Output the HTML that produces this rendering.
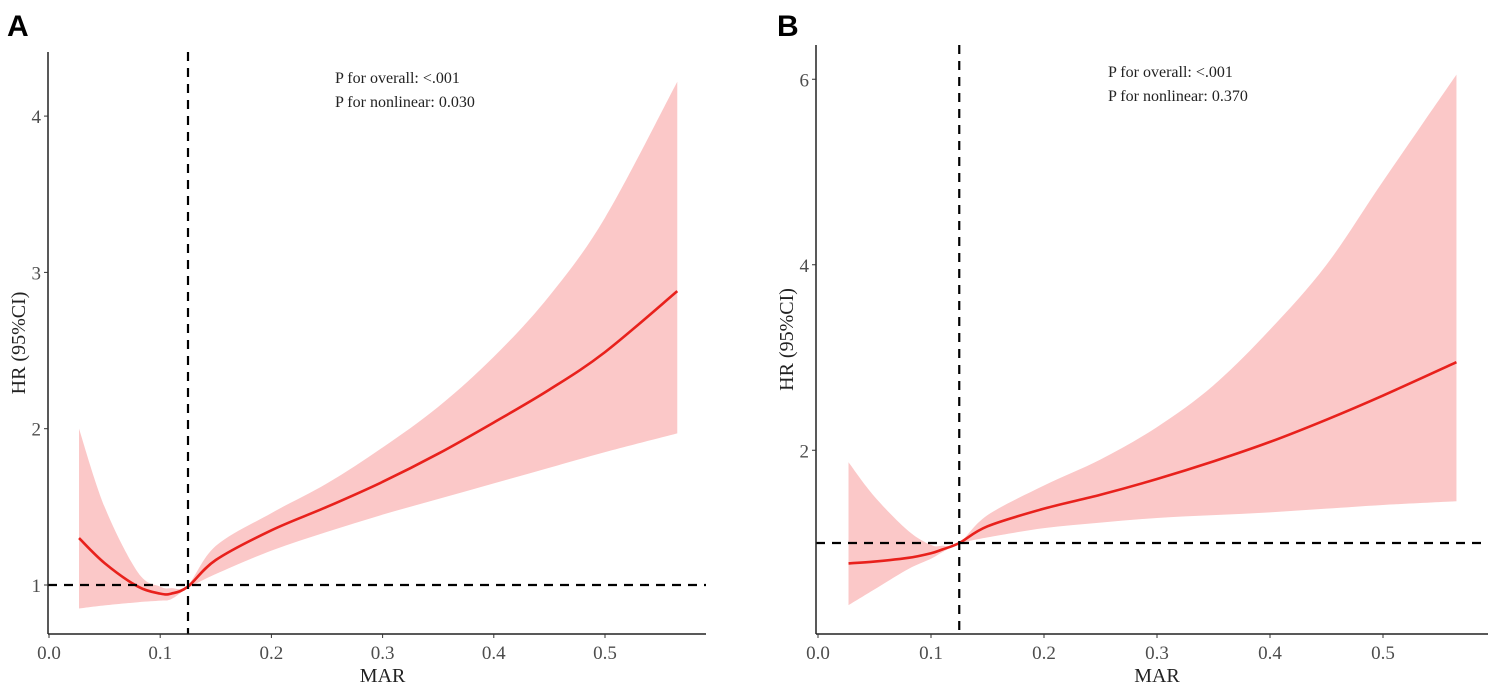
<!DOCTYPE html>
<html><head><meta charset="utf-8">
<style>
html,body{margin:0;padding:0;background:#fff;}
svg{display:block;font-family:"Liberation Serif",serif;}
.tick{fill:#4d4d4d;font-size:19px;}
.title{fill:#222;font-size:20px;}
.ann{fill:#222;font-size:16px;}
.lab{font-family:"Liberation Sans",sans-serif;font-weight:bold;font-size:30px;fill:#000;}
</style></head>
<body>
<svg id="chart" width="1495" height="689" viewBox="0 0 1495 689"></svg>
<script>
const xs = [0.027,0.05,0.08,0.1,0.11,0.125,0.15,0.2,0.25,0.3,0.35,0.4,0.45,0.5,0.565];
const xTicks = [0.0,0.1,0.2,0.3,0.4,0.5];
const xTickLabels = ["0.0","0.1","0.2","0.3","0.4","0.5"];
const aFit = [1.30,1.14,0.99,0.945,0.945,0.99,1.16,1.35,1.5,1.66,1.84,2.04,2.25,2.49,2.88];
const aUpper = [2.0,1.5,1.08,0.99,0.98,1.0,1.25,1.46,1.65,1.88,2.14,2.46,2.85,3.35,4.22];
const aLower = [0.85,0.87,0.89,0.9,0.91,0.98,1.07,1.22,1.34,1.45,1.55,1.65,1.75,1.85,1.97];
const aYTicks = [1,2,3,4];
const bFit = [0.78,0.80,0.84,0.89,0.93,1.0,1.18,1.37,1.52,1.69,1.88,2.09,2.33,2.59,2.95];
const bUpper = [1.87,1.5,1.13,0.98,0.97,1.0,1.3,1.62,1.9,2.25,2.7,3.3,4.0,4.9,6.05];
const bLower = [0.33,0.5,0.72,0.83,0.9,0.99,1.06,1.16,1.22,1.27,1.3,1.33,1.37,1.41,1.45];
const bYTicks = [2,4,6];
const knot = 0.125, refHR = 1;

const NS="http://www.w3.org/2000/svg";
const svg=document.getElementById('chart');
function mk(tag,attrs,parent){const e=document.createElementNS(NS,tag);for(const k in attrs)e.setAttribute(k,attrs[k]);(parent||svg).appendChild(e);return e;}
function smooth(pts){let d=`M${pts[0][0]},${pts[0][1]}`;for(let i=0;i<pts.length-1;i++){const p0=pts[Math.max(0,i-1)],p1=pts[i],p2=pts[i+1],p3=pts[Math.min(pts.length-1,i+2)];const c1=[p1[0]+(p2[0]-p0[0])/6,p1[1]+(p2[1]-p0[1])/6],c2=[p2[0]-(p3[0]-p1[0])/6,p2[1]-(p3[1]-p1[1])/6];d+=` C${c1[0]},${c1[1]} ${c2[0]},${c2[1]} ${p2[0]},${p2[1]}`;}return d;}

function panel(cfg){
  const g=mk('g',{});
  
  
  const X=v=>cfg.x0+v*cfg.xs, Y=v=>cfg.y0-v*cfg.ys;
  const up=xs.map((x,i)=>[X(x),Y(cfg.upper[i])]);
  const lo=xs.map((x,i)=>[X(x),Y(cfg.lower[i])]).reverse();
  let d=smooth(up)+' L'+lo[0][0]+','+lo[0][1]+smooth(lo).replace(/^M[^C]*/,' ')+' Z';
  const band=mk('path',{d:d,fill:'#fbc8c8',stroke:'none'},g);
  
  
  const line=mk('path',{d:smooth(xs.map((x,i)=>[X(x),Y(cfg.fit[i])])),fill:'none',stroke:'#e8211c','stroke-width':2.6},g);
  
  
  const hl=mk('line',{x1:cfg.axL,x2:cfg.axR,y1:Y(refHR),y2:Y(refHR),stroke:'#000','stroke-width':2.2,'stroke-dasharray':'9,7'},g);
  
  
  const vl=mk('line',{x1:X(knot),x2:X(knot),y1:cfg.axT,y2:cfg.axB,stroke:'#000','stroke-width':2.2,'stroke-dasharray':'9,7'},g);
  
  
  const ya=mk('line',{x1:cfg.axL,x2:cfg.axL,y1:cfg.axT,y2:cfg.axB,stroke:'#222','stroke-width':1.5},g);
  
  
  const xa=mk('line',{x1:cfg.axL,x2:cfg.axR,y1:cfg.axB,y2:cfg.axB,stroke:'#222','stroke-width':1.5},g);
  
  
  xTicks.forEach((v,i)=>{
    mk('line',{x1:X(v),x2:X(v),y1:cfg.axB,y2:cfg.axB+4,stroke:'#333'},g);
    const t=mk('text',{x:X(v),y:cfg.axB+25,'text-anchor':'middle',class:'tick'},g);
    t.textContent=xTickLabels[i];
    
    
  });
  cfg.yTicks.forEach(v=>{
    mk('line',{x1:cfg.axL-4,x2:cfg.axL,y1:Y(v),y2:Y(v),stroke:'#333'},g);
    const t=mk('text',{x:cfg.axL-7,y:Y(v)+7,'text-anchor':'end',class:'tick'},g);
    t.textContent=String(v);
    
    
  });
  const xt=mk('text',{x:X(0.3),y:cfg.axB+48,'text-anchor':'middle',class:'title'},g);
  xt.textContent='MAR';
  
  
  const yt=mk('text',{x:0,y:0,'text-anchor':'middle',class:'title',transform:`translate(${cfg.axL-23},${(cfg.axT+cfg.axB)/2}) rotate(-90)`},g);
  yt.textContent='HR (95%CI)';
  
  
  const a1=mk('text',{x:cfg.annX,y:cfg.annY,class:'ann'},g);
  a1.textContent='P for overall: <.001';
  
  
  const a2=mk('text',{x:cfg.annX,y:cfg.annY+24,class:'ann'},g);
  a2.textContent=cfg.pnl;
  
  
  const L=mk('text',{x:cfg.labX,y:36,class:'lab'},g);
  L.textContent=cfg.label;
  
  
}
panel({name:'panel-a',x0:49,xs:1112,y0:585+156.3,ys:156.3,axL:48,axR:706,axT:52,axB:634,
  fit:aFit,upper:aUpper,lower:aLower,yTicks:aYTicks,annX:335,annY:83,pnl:'P for nonlinear: 0.030',label:'A',labX:7});
panel({name:'panel-b',x0:818,xs:1130,y0:543+92.75,ys:92.75,axL:816,axR:1488,axT:45,axB:634,
  fit:bFit,upper:bUpper,lower:bLower,yTicks:bYTicks,annX:1108,annY:77,pnl:'P for nonlinear: 0.370',label:'B',labX:777});
</script>
</body></html>
